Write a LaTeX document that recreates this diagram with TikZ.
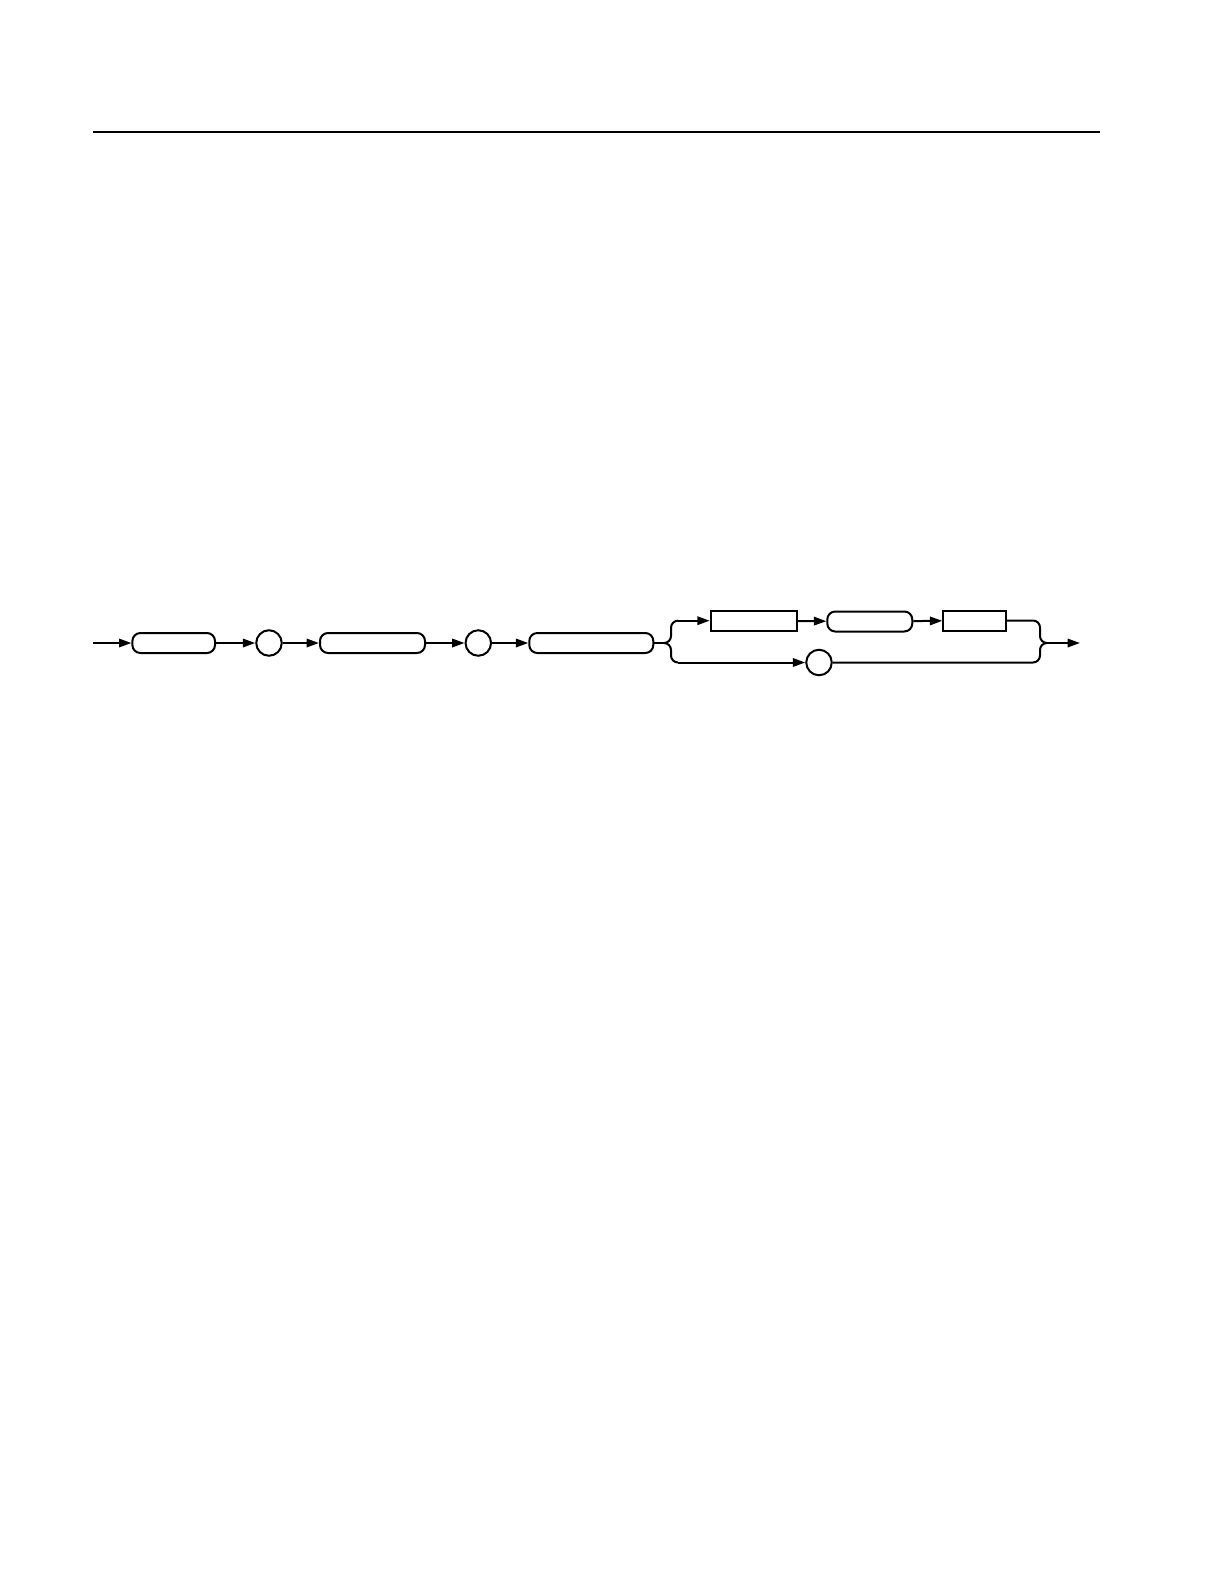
\documentclass[tikz,border=0pt]{standalone}
\usetikzlibrary{arrows.meta}
\tikzset{
  rrect/.style={draw, line width=1pt, rounded corners=4pt, minimum height=10pt, inner sep=0pt},
  sbox/.style={draw, line width=1pt, minimum height=10pt, inner sep=0pt},
  rcirc/.style={draw, line width=1pt, circle, minimum size=12.75pt, inner sep=0pt},
  conn/.style={line width=1pt, rounded corners=3.5pt},
  arr/.style={line width=1pt, -{Triangle[length=6.2pt,width=4.2pt]}},
}
\begin{document}
\begin{tikzpicture}[x=0.5pt,y=-0.5pt]
\useasboundingbox (0,0) rectangle (1224,1584);
% top rule
\coordinate (ruleL) at (93,132);
\coordinate (ruleR) at (1100,132);
\draw[line width=0.9pt] (ruleL) -- (ruleR);
% nodes
\node[rrect, minimum width=41.3pt] (r1) at (173.7,643) {};
\node[rcirc] (c1) at (269,643) {};
\node[rrect, minimum width=52.5pt] (r2) at (372.5,643) {};
\node[rcirc] (c2) at (478.3,643) {};
\node[rrect, minimum width=62pt] (r3) at (591.3,643) {};
\node[sbox, minimum width=43pt] (b1) at (753.7,620.7) {};
\node[rrect, minimum width=42.5pt] (r4) at (869.8,621.5) {};
\node[sbox, minimum width=31.2pt] (b2) at (974.5,620.5) {};
\node[rcirc] (c3) at (819,662.5) {};
% free ends
\coordinate (start) at (92.7,643);
\coordinate (jl) at (664,643);
\coordinate (jr) at (1047,643);
\coordinate (stop) at (1080,643);
% main line
\draw[arr] (start) -- (r1);
\draw[arr] (r1) -- (c1);
\draw[arr] (c1) -- (r2);
\draw[arr] (r2) -- (c2);
\draw[arr] (c2) -- (r3);
% left brace
\draw[line width=1pt] (r3.east) -- (jl);
\draw[conn] (jl) -- (671,643) -- (671,620.7) -- (678,620.7);
\draw[arr] (678,620.7) -- (b1.west);
\draw[conn] (jl) -- (671,643) -- (671,662.5) -- (678,662.5);
\draw[arr] (678,662.5) -- (c3.west);
% upper branch
\draw[arr] (b1) -- (r4);
\draw[arr] (r4) -- (b2);
% right brace
\draw[conn] (b2.east) -- (1040,620.5) -- (1040,643) -- (jr);
\draw[conn] (c3.east) -- (1040,662.5) -- (1040,643) -- (jr);
\draw[arr] (jr) -- (stop);
\end{tikzpicture}
\end{document}
